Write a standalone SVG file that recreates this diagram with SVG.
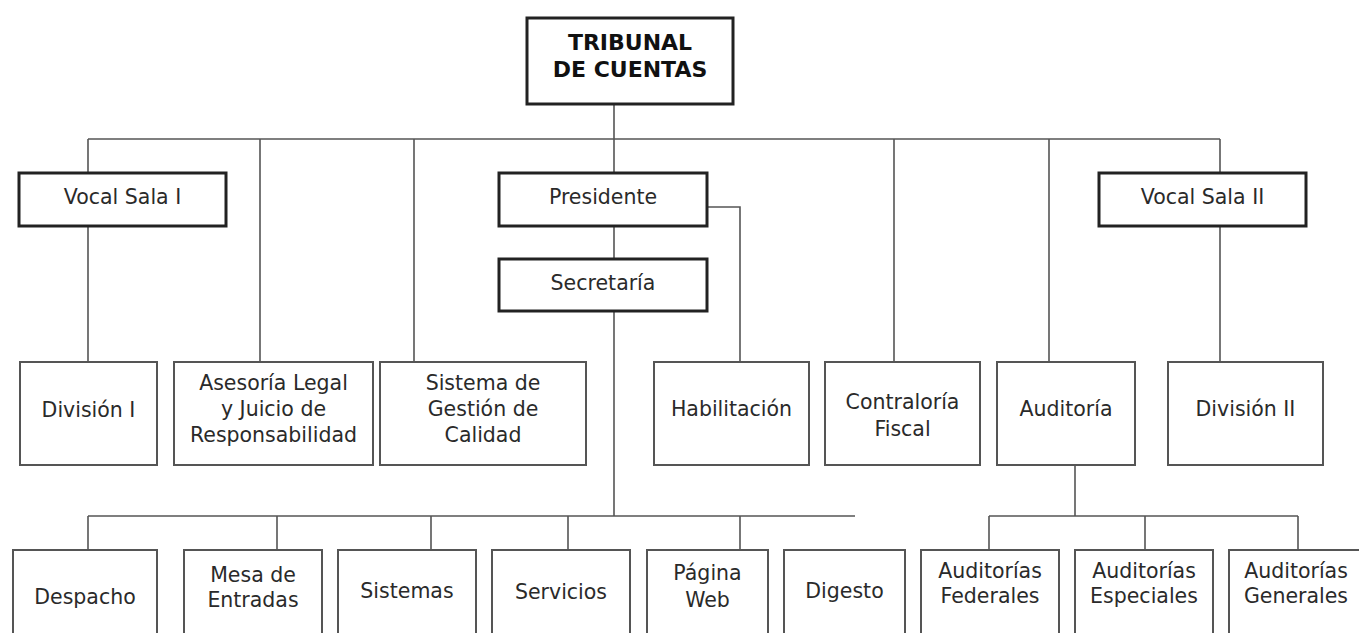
<svg xmlns="http://www.w3.org/2000/svg" width="1359" height="633" viewBox="0 0 1359 633">
<style>
.top{fill:#fff;stroke:#222;stroke-width:3}
.box{fill:#fff;stroke:#555;stroke-width:2}
.c{fill:none;stroke:#555;stroke-width:1.6}
text{font-family:"DejaVu Sans","Verdana",sans-serif;font-size:20.5px;fill:#2a2a2a;text-anchor:middle}
.b{font-weight:bold;font-size:22px;fill:#111}
</style>
<rect width="1359" height="633" fill="#fff"/>
<g id="connectors">
<path class="c" d="M614 104V173M88 139H1220M88 139V173M260 139V362M414 139V362M894 139V362M1049 139V362M1220 139V173M88 226V362M1220 226V362M614 226V259M707 207H740V362M614 311V516M88 516H855M88 516V550M277 516V550M431 516V550M568 516V550M740 516V550M1075 465V516M989 516H1298M989 516V550M1145 516V550M1298 516V550"/>
</g>
<g id="tribunal"><rect class="top" x="527" y="18" width="206" height="86"/><text class="b" x="630" y="50">TRIBUNAL</text><text class="b" x="630" y="77">DE CUENTAS</text></g>
<g id="vocal1"><rect class="top" x="19" y="173" width="207" height="53"/><text x="122.5" y="204">Vocal Sala I</text></g>
<g id="presidente"><rect class="top" x="499" y="173" width="208" height="53"/><text x="603" y="204">Presidente</text></g>
<g id="secretaria"><rect class="top" x="499" y="259" width="208" height="52"/><text x="603" y="290">Secretaría</text></g>
<g id="vocal2"><rect class="top" x="1099" y="173" width="207" height="53"/><text x="1202.5" y="204">Vocal Sala II</text></g>
<g id="division1"><rect class="box" x="20" y="362" width="137" height="103"/><text x="88.5" y="417">División I</text></g>
<g id="asesoria"><rect class="box" x="174" y="362" width="199" height="103"/><text x="273.5" y="390">Asesoría Legal</text><text x="273.5" y="416">y Juicio de</text><text x="273.5" y="442">Responsabilidad</text></g>
<g id="calidad"><rect class="box" x="380" y="362" width="206" height="103"/><text x="483" y="390">Sistema de</text><text x="483" y="416">Gestión de</text><text x="483" y="442">Calidad</text></g>
<g id="habilitacion"><rect class="box" x="654" y="362" width="155" height="103"/><text x="731.5" y="416">Habilitación</text></g>
<g id="contraloria"><rect class="box" x="825" y="362" width="155" height="103"/><text x="902.5" y="409">Contraloría</text><text x="902.5" y="436">Fiscal</text></g>
<g id="auditoria"><rect class="box" x="997" y="362" width="138" height="103"/><text x="1066" y="416">Auditoría</text></g>
<g id="division2"><rect class="box" x="1168" y="362" width="155" height="103"/><text x="1245.5" y="416">División II</text></g>
<g id="despacho"><rect class="box" x="13" y="550" width="144" height="100"/><text x="85" y="604">Despacho</text></g>
<g id="mesa"><rect class="box" x="184" y="550" width="138" height="100"/><text x="253" y="582">Mesa de</text><text x="253" y="607">Entradas</text></g>
<g id="sistemas"><rect class="box" x="338" y="550" width="138" height="100"/><text x="407" y="598">Sistemas</text></g>
<g id="servicios"><rect class="box" x="492" y="550" width="138" height="100"/><text x="561" y="599">Servicios</text></g>
<g id="pagina"><rect class="box" x="647" y="550" width="121" height="100"/><text x="707.5" y="580">Página</text><text x="707.5" y="607">Web</text></g>
<g id="digesto"><rect class="box" x="784" y="550" width="121" height="100"/><text x="844.5" y="598">Digesto</text></g>
<g id="aud_fed"><rect class="box" x="921" y="550" width="138" height="100"/><text x="990" y="578">Auditorías</text><text x="990" y="603">Federales</text></g>
<g id="aud_esp"><rect class="box" x="1075" y="550" width="138" height="100"/><text x="1144" y="578">Auditorías</text><text x="1144" y="603">Especiales</text></g>
<g id="aud_gen"><rect class="box" x="1229" y="550" width="138" height="100"/><text x="1296" y="578">Auditorías</text><text x="1296" y="603">Generales</text></g>
</svg>
